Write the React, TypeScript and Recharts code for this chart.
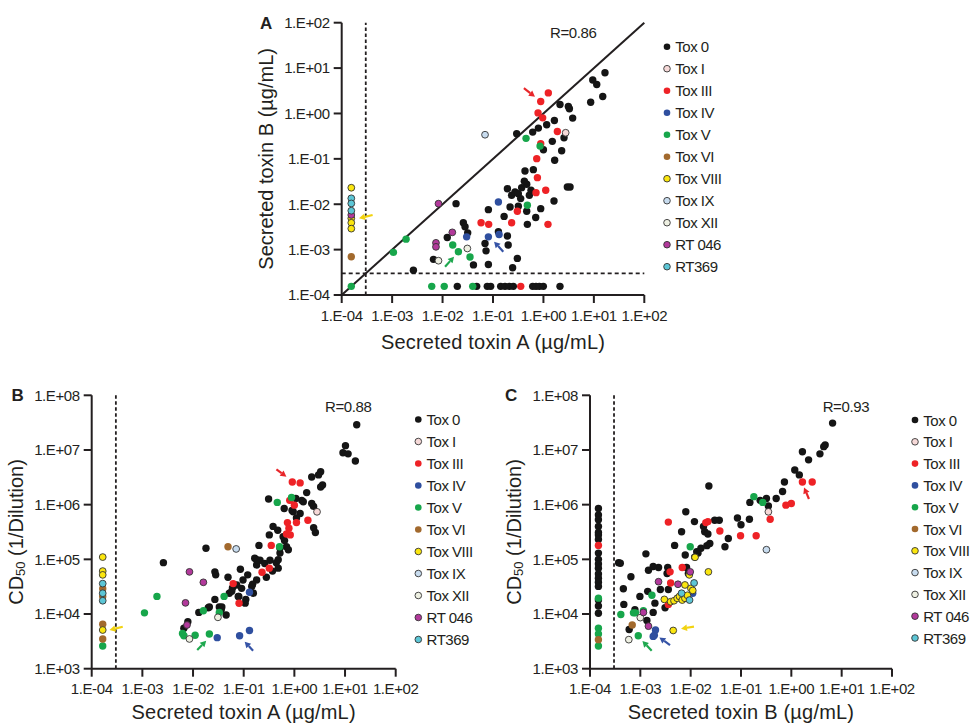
import React from 'react';
import { ScatterChart, Scatter, XAxis, YAxis, ReferenceLine } from 'recharts';

type P = [number, number];

const FONT = '"Liberation Sans", Arial, Helvetica, sans-serif';
const INK = '#231f20';

const TOXIN_TICKS = [1e-4, 1e-3, 1e-2, 1e-1, 1, 10, 100];
const CD50_TICKS = [1e3, 1e4, 1e5, 1e6, 1e7, 1e8];
const LOD = 3e-4;

const GROUP_NAMES = ['Tox 0', 'Tox I', 'Tox III', 'Tox IV', 'Tox V', 'Tox VI', 'Tox VIII', 'Tox IX', 'Tox XII', 'RT 046', 'RT369'];
const GROUP_FILL = ['#151515', '#f6d9d8', '#ee2226', '#2f4f9f', '#17a64b', '#a2692d', '#fbe60f', '#c8dcef', '#eef0e2', '#b2399b', '#5cc6d6'];
const GROUP_STROKE = ['none', '#333', 'none', 'none', 'none', 'none', '#333', '#333', '#333', '#333', '#333'];

// ---------- Panel A : toxin A (x) vs toxin B (y), µg/mL ----------
const A_TOX0: P[] = [
  [0.0196, 1.55e-4], [0.0475, 1.55e-4], [0.077, 1.55e-4], [0.09, 1.55e-4], [0.142, 1.55e-4], [0.173, 1.55e-4],
  [0.211, 1.55e-4], [0.253, 1.55e-4], [0.612, 1.55e-4], [0.713, 1.55e-4], [0.83, 1.55e-4], [0.995, 1.55e-4], [2.13, 1.55e-4],
  [2.64e-3, 3.5e-4], [0.0185, 0.0103], [6.6e-3, 6.1e-4], [0.0124, 1.85e-3], [0.0258, 3.9e-3], [0.0279, 3.2e-3],
  [0.0315, 2.34e-3], [0.041, 4.6e-4], [0.081, 7.6e-3], [0.0695, 1.37e-3], [0.0728, 9.4e-4], [0.081, 4.7e-4],
  [0.166, 5.4e-3], [0.193, 2.0e-3], [0.2, 1.26e-3], [0.245, 4.0e-4], [0.304, 6.4e-4], [0.193, 0.022], [0.234, 0.0158],
  [0.273, 0.0187], [0.318, 0.0171], [0.37, 0.0232], [0.466, 0.0275], [0.526, 0.0158], [0.431, 0.054], [0.631, 0.0578],
  [0.354, 0.0133], [0.218, 8.7e-3], [0.318, 9.0e-3], [0.466, 7.0e-3], [0.883, 8.0e-3], [0.703, 5.1e-3], [0.48, 3.6e-3],
  [1.62, 0.0118], [1.0, 0.159], [1.67, 0.093], [2.3, 0.151], [2.56, 0.292], [1.5, 0.243], [0.295, 0.357], [0.612, 0.389],
  [0.794, 0.476], [1.16, 0.564], [1.65, 0.702], [2.13, 1.58], [3.12, 1.43], [3.27, 1.27], [3.8, 0.79], [2.98, 0.024],
  [3.37, 0.024], [8.65, 1.77], [15, 2.36], [9.5, 5.45], [11.4, 4.36], [16.6, 7.9], [0.567, 0.0203], [0.418, 0.032],
  [0.128, 2.47e-3],
];
const A_TOXI: P[] = [[2.76, 0.376]];
const A_TOXIII: P[] = [
  [1.25, 2.84], [0.883, 1.84], [0.782, 1.03], [0.966, 0.8], [1.89, 0.4], [0.883, 0.215], [0.736, 0.101], [0.759, 0.0385],
  [1.11, 0.0203], [0.713, 0.018], [0.304, 7.0e-3], [0.234, 3.9e-3], [0.058, 3.9e-3], [0.082, 3.6e-3], [1.23, 3.6e-3], [0.355, 1.55e-4],
];
const A_TOXIV: P[] = [[0.03, 1.91e-3], [0.081, 1.91e-3], [0.132, 2.15e-3], [0.128, 0.0112]];
const A_TOXV: P[] = [
  [1.55e-4, 1.55e-4], [1.06e-3, 8.7e-4], [1.89e-3, 1.7e-3], [6.1e-3, 1.55e-4], [0.0108, 1.55e-4], [0.0396, 1.55e-4],
  [0.0159, 1.26e-3], [0.0206, 9.0e-4], [0.035, 6.9e-4], [0.452, 0.283], [0.857, 0.191], [0.48, 9.5e-3],
];
const A_TOXVI: P[] = [[1.55e-4, 6.95e-4]];
const A_TOXVIII: P[] = [[1.55e-4, 0.0231], [1.55e-4, 4.9e-3], [1.55e-4, 3.9e-3], [1.55e-4, 2.9e-3]];
const A_TOXIX: P[] = [[0.0695, 0.34]];
const A_TOXXII: P[] = [[8.3e-3, 5.7e-4], [0.031, 1.06e-3]];
const A_RT046: P[] = [[8.3e-3, 0.0103], [0.0156, 2.4e-3], [7.4e-3, 1.41e-3], [7.4e-3, 1.15e-3], [1.55e-4, 5.8e-3]];
const A_RT369: P[] = [[1.55e-4, 0.0135], [1.55e-4, 0.0104], [1.55e-4, 7.2e-3]];
const ARROWS_A: [P, P][] = [
  [[0.41, 3.6], [0.68, 2.34]],
  [[4.1e-4, 5.8e-3], [2.2e-4, 4.9e-3]],
  [[0.0112, 4.2e-4], [0.0169, 7.0e-4]],
  [[0.16, 9.0e-4], [0.105, 1.5e-3]],
];

// ---------- Panel B : toxin A (x) vs CD50 (y) ----------
const B_TOX0: P[] = [
  [17, 2.9e7], [10.2, 1.2e7], [9.1, 8.9e6], [11.5, 8.5e6], [16, 6.3e6], [3.3, 4e6], [2.2, 3.2e6], [3.0, 3.5e6], [3.6, 2.3e6],
  [3.3, 2.1e6], [1.75, 1.66e6], [1.07, 1.3e6], [1.4, 1.2e6], [0.31, 1.27e6], [0.63, 8.5e5], [2.2, 1.05e6], [2.4, 9.3e5],
  [0.9, 7.8e5], [1.3, 6.9e5], [1.1, 5.7e5], [2.4, 3.8e5], [2.6, 3.1e5], [0.38, 4e5], [0.47, 3.4e5], [0.32, 2.8e5], [0.6, 2.6e5],
  [0.64, 2.2e5], [0.7, 1.7e5], [0.76, 1.5e5], [0.52, 1.3e5], [0.2, 1.8e5], [0.165, 1.05e5], [0.21, 9.6e4], [0.26, 8.4e4],
  [0.18, 7.9e4], [0.33, 9.6e4], [0.44, 8.7e4], [0.48, 6.9e4], [0.37, 6.1e4], [0.28, 4.7e4], [0.18, 4.2e4], [0.15, 3.5e4],
  [0.12, 5.2e4], [0.097, 4.2e4], [0.086, 6.6e4], [0.06, 3e4], [0.073, 3.4e4], [0.08, 2.1e4], [0.11, 1.85e4], [0.052, 2.4e4],
  [0.049, 4.7e4], [0.027, 5.9e4], [0.028, 5.2e4], [0.018, 1.6e5], [2.6e-3, 8.7e4], [0.013, 1.07e4], [0.02, 1.3e4],
  [0.027, 1.85e4], [0.033, 1.35e4], [0.036, 1.2e4], [0.045, 9.6e3], [7.9e-3, 7.2e3], [6.6e-3, 5.5e3],
  [0.18, 9.8e4], [0.48, 9.8e4], [0.52, 1.6e5], [0.144, 3.2e4], [0.155, 2.4e4], [0.091, 2.95e4], [0.058, 2.6e4],
  [0.078, 2.1e4], [0.107, 1.58e4], [0.037, 1.35e4], [0.021, 1.35e4], [0.95, 7.4e5], [1.5, 1.13e6],
];
const B_TOXI: P[] = [[2.8, 7.4e5]];
const B_TOXIII: P[] = [
  [0.91, 2.6e6], [1.3, 2.5e6], [0.81, 1.2e6], [1.0, 9.8e5], [0.73, 4.7e5], [1.1, 4.7e5], [1.85, 5.2e5], [0.78, 3.7e5],
  [0.7, 2.9e5], [0.83, 2.8e5], [0.35, 1.8e5], [0.32, 6.9e4], [0.23, 5.8e4], [0.062, 3.6e4], [0.081, 1.57e4],
];
const B_TOXIV: P[] = [[0.03, 3.7e3], [0.083, 4e3], [0.13, 5e3], [0.13, 2.5e4]];
const B_TOXV: P[] = [
  [1.65e-4, 2.6e3], [1.1e-3, 1.05e4], [1.94e-3, 2.1e4], [6.2e-3, 4.4e3], [6.6e-3, 4e3], [0.011, 4.1e3], [0.016, 1.15e4],
  [0.021, 4.3e3], [0.033, 1.07e4], [0.041, 2.1e4], [0.46, 1.1e6], [0.88, 1.35e6], [0.51, 1.7e5],
];
const B_TOXVI: P[] = [[1.65e-4, 2.1e4], [1.65e-4, 2.9e4], [1.65e-4, 6.5e3], [1.65e-4, 3.5e3], [0.049, 1.7e5]];
const B_TOXVIII: P[] = [[1.65e-4, 1.1e5], [1.65e-4, 6.1e4], [1.65e-4, 5.2e4], [1.65e-4, 5.1e3]];
const B_TOXIX: P[] = [[0.071, 1.55e5]];
const B_TOXXII: P[] = [[8.5e-3, 3.5e3], [0.031, 8.7e3]];
const B_RT046: P[] = [[8.5e-3, 5.9e4], [0.016, 3.8e4], [7.1e-3, 1.6e4], [7.6e-3, 6.3e3]];
const B_RT369: P[] = [[1.65e-4, 3.6e4], [1.65e-4, 2.4e4], [1.65e-4, 1.75e4]];
const ARROWS_B: [P, P][] = [
  [[0.442, 4.43e6], [0.697, 3.25e6]],
  [[4.1e-4, 5.86e3], [2.24e-4, 5.09e3]],
  [[0.0121, 2.19e3], [0.0182, 3.25e3]],
  [[0.153, 2.13e3], [0.1045, 3.12e3]],
];

// ---------- Panel C : toxin B (x) vs CD50 (y) ----------
const C_TOX0: P[] = [
  [1.47e-4, 8.5e5], [1.47e-4, 6.5e5], [1.47e-4, 5.3e5], [1.47e-4, 4e5], [1.47e-4, 3.1e5], [1.47e-4, 2.8e5], [1.47e-4, 2.3e5],
  [1.47e-4, 1.3e5], [1.47e-4, 1e5], [1.47e-4, 8.2e4], [1.47e-4, 6.9e4], [1.47e-4, 5.4e4], [1.47e-4, 4.5e4], [1.47e-4, 3.8e4],
  [1.47e-4, 3.2e4], [1.47e-4, 1.8e4], [1.47e-4, 1.4e4], [1.47e-4, 1.03e4],
  [6.6, 3.1e7], [4.7, 1.23e7], [4.4, 1.15e7], [1.66, 9.3e6], [3.7, 8.5e6], [2.2, 6.6e6], [1.17, 4.3e6], [1.44, 3.5e6],
  [0.73, 2.6e6], [0.67, 1.74e6], [0.5, 1.3e6], [0.32, 1.3e6], [0.24, 1.2e6], [0.15, 1.1e6], [0.35, 9.5e5], [0.085, 5.7e5],
  [0.1, 4.3e5], [0.147, 5.4e5], [0.056, 2.4e5], [0.048, 1.7e5], [0.037, 5.2e5], [0.03, 5.2e5], [0.023, 2.2e6], [0.018, 4e5],
  [0.019, 3.2e5], [0.022, 2.9e5], [0.024, 1.95e5], [0.021, 1.78e5], [0.016, 1.6e5], [0.014, 1.3e5], [0.012, 1.1e5],
  [8e-3, 7.4e5], [6.6e-3, 3.2e5], [4.8e-3, 1.8e5], [2.3e-3, 7.1e4], [1.8e-3, 7.4e4], [1.45e-3, 6.3e4], [1.29e-3, 1.26e5],
  [3.5e-3, 7.1e4], [3.4e-3, 5.5e4], [8.3e-3, 7.1e4], [9e-3, 5.5e4], [3.7e-4, 8.7e4], [4e-4, 8.5e4], [6.5e-4, 4.8e4],
  [4.6e-4, 2.9e4], [4.7e-4, 1.5e4], [7.8e-4, 1.2e4], [9.8e-4, 2.1e4], [1.4e-3, 2.6e4], [1.8e-3, 1.07e4], [1.35e-3, 7.6e3],
  [6e-4, 5.2e3], [2.5e-3, 2.8e4], [3.6e-3, 2.8e4], [3.1e-3, 1.3e4],
  [0.0119, 4.9e5], [7.8e-3, 1.2e5], [0.0132, 1.38e5], [1.95e-3, 1.58e4],
];
const C_TOXI: P[] = [[0.35, 7.4e5]];
const C_TOXIII: P[] = [
  [1.47e-4, 1.8e5], [1.66, 2.6e6], [2.6, 2.6e6], [1.0, 1.05e6], [0.78, 9.8e5], [0.38, 5.4e5], [0.2, 2.7e5], [0.098, 2.7e5],
  [0.038, 3.3e5], [0.02, 4.7e5], [0.022, 4.9e5], [3.6e-3, 4.8e5], [6.8e-3, 7.1e4], [3.9e-3, 5.9e4], [4e-3, 3.7e4], [3.6e-3, 1.5e4],
];
const C_TOXIV: P[] = [[2.0e-3, 5.1e3], [1.9e-3, 4.1e3], [1.8e-3, 3.9e3], [0.011, 2.4e4]];
const C_TOXV: P[] = [
  [1.47e-4, 1.95e4], [1.47e-4, 5.5e3], [1.47e-4, 4.3e3], [1.47e-4, 2.6e3], [0.18, 1.4e6], [0.27, 1.1e6], [9.8e-3, 1.7e5],
  [1.7e-3, 2.2e4], [4.1e-4, 9.8e3], [7.3e-4, 1.05e4], [8e-4, 1.05e4], [1.15e-3, 1.15e4], [9.1e-4, 4e3],
];
const C_TOXVI: P[] = [[1.47e-4, 3.4e3], [6.9e-4, 6.3e3]];
const C_TOXVIII: P[] = [
  [3.0e-3, 1.85e4], [4.0e-3, 1.68e4], [4.67e-3, 1.75e4], [5.4e-3, 1.94e4], [6.0e-3, 2.1e4], [6.8e-3, 1.8e4], [7.7e-3, 1.94e4],
  [8.6e-3, 2.2e4], [7.7e-3, 3.4e4], [0.0101, 2.95e4], [0.011, 2.7e4], [9.4e-3, 5.2e4], [0.0122, 1.09e5], [0.0225, 5.9e4],
  [4.5e-3, 5e3],
];
const C_TOXIX: P[] = [[0.32, 1.5e5]];
const C_TOXXII: P[] = [[5.9e-4, 3.4e3], [1e-3, 8.6e3]];
const C_RT046: P[] = [[2.3e-3, 3.9e4], [5.6e-3, 3.5e4], [9.8e-3, 5.9e4], [1.15e-3, 1.07e4], [1.45e-3, 6e3]];
const C_RT369: P[] = [[0.0117, 3.7e4], [6.6e-3, 2.4e4], [9.5e-3, 1.8e4]];
const ARROWS_C: [P, P][] = [
  [[2.24, 1.27e6], [1.79, 2.07e6]],
  [[0.01164, 5.86e3], [6.43e-3, 5.4e3]],
  [[1.68e-3, 2.13e3], [1.1e-3, 3.21e3]],
  [[3.89e-3, 2.71e3], [2.39e-3, 3.74e3]],
];
const ARROW_COLORS = ['#e8262a', '#f2d30f', '#1fa84f', '#3553a6'];

// ---------- layout ----------
const W = 970;
const H = 725;
const YW = 85;
const XH = 50;

type Plot = { left: number; top: number; right: number; bottom: number };

const sci = (v: number) => {
  const e = Math.round(Math.log10(v));
  return `1.E${e < 0 ? '-' : '+'}${String(Math.abs(e)).padStart(2, '0')}`;
};

const tickStyle = { fill: INK, fontSize: 15, fontFamily: FONT, letterSpacing: -0.4 };

const arrowShape = (color: string) => (p: any) => {
  const { x1, y1, x2, y2 } = p;
  const dx = x2 - x1;
  const dy = y2 - y1;
  const L = Math.hypot(dx, dy) || 1;
  const ux = dx / L;
  const uy = dy / L;
  const h = 6;
  const w = 3.3;
  const bx = x2 - ux * h;
  const by = y2 - uy * h;
  return (
    <g>
      <line x1={x1} y1={y1} x2={bx} y2={by} stroke={color} strokeWidth={2.2} />
      <polygon points={`${x2},${y2} ${bx - uy * w},${by + ux * w} ${bx + uy * w},${by - ux * w}`} fill={color} />
    </g>
  );
};

const toData = (pts: P[]) => pts.map(([x, y]) => ({ x, y }));

function Legend({ x, y, step }: { x: number; y: number; step: number }) {
  return (
    <g>
      {GROUP_NAMES.map((name, i) => (
        <g key={name}>
          <circle cx={x} cy={y + i * step} r={3.3} fill={GROUP_FILL[i]} stroke={GROUP_STROKE[i]} strokeWidth={0.9} />
          <text x={x + 8.3} y={y + i * step} dominantBaseline="central" fontSize={15} letterSpacing={-0.5} fontFamily={FONT} fill={INK}>
            {name}
          </text>
        </g>
      ))}
    </g>
  );
}

type PanelProps = {
  plot: Plot;
  groups: P[][];
  yDomain: [number, number];
  yTicks: number[];
  xTitle: string;
  xTitleGap: number;
  yTitle: React.ReactNode;
  arrows: [P, P][];
  diagonal?: boolean;
  hLine?: boolean;
  letter: string;
  letterPos: [number, number];
  rText: string;
  rPos: [number, number];
  legendPos: [number, number, number];
};

function Panel(props: PanelProps) {
  const { plot, groups, yDomain, yTicks, xTitle, yTitle, arrows } = props;
  const margin = {
    top: plot.top,
    left: plot.left - YW,
    right: W - plot.right,
    bottom: H - plot.bottom - XH,
  };
  const yLabel = {
    content: () => {
      const cx = plot.left - 76;
      const cy = (plot.top + plot.bottom) / 2;
      return (
        <text x={cx} y={cy} transform={`rotate(-90 ${cx} ${cy})`} textAnchor="middle" dominantBaseline="central" fontSize={20} fontFamily={FONT} fill={INK}>
          {yTitle}
        </text>
      );
    },
  };
  const xLabel = {
    content: () => (
      <text x={(plot.left + plot.right) / 2} y={plot.bottom + props.xTitleGap} textAnchor="middle" dominantBaseline="central" fontSize={20} letterSpacing={0.2} fontFamily={FONT} fill={INK}>
        {xTitle}
      </text>
    ),
  };
  const order = [0, 1, 2, 3, 4, 5, 6, 7, 8, 9, 10];
  return (
    <div style={{ position: 'absolute', left: 0, top: 0, width: W, height: H, pointerEvents: 'none' }}>
      <ScatterChart width={W} height={H} margin={margin}>
        <XAxis
          type="number"
          dataKey="x"
          scale="log"
          domain={[1e-4, 1e2]}
          ticks={TOXIN_TICKS}
          tickFormatter={sci}
          allowDataOverflow
          interval={0}
          height={XH}
          axisLine={{ stroke: INK, strokeWidth: 2 }}
          tickLine={{ stroke: INK, strokeWidth: 2 }}
          tickSize={8}
          tickMargin={7}
          tick={tickStyle}
          label={xLabel}
        />
        <YAxis
          type="number"
          dataKey="y"
          scale="log"
          domain={yDomain}
          ticks={yTicks}
          tickFormatter={sci}
          allowDataOverflow
          interval={0}
          width={YW}
          axisLine={{ stroke: INK, strokeWidth: 2 }}
          tickLine={{ stroke: INK, strokeWidth: 2 }}
          tickSize={8}
          tickMargin={4}
          tick={tickStyle}
          label={yLabel}
        />
        <ReferenceLine x={LOD} stroke={INK} strokeWidth={1.8} strokeDasharray="3.5 2.5" />
        {props.hLine && <ReferenceLine y={LOD} stroke={INK} strokeWidth={1.8} strokeDasharray="4 3" />}
        {props.diagonal && (
          <ReferenceLine
            segment={[
              { x: 1e-4, y: 1e-4 },
              { x: 1e2, y: 1e2 },
            ]}
            stroke={INK}
            strokeWidth={2}
          />
        )}
        {order.map((gi) => (
          <Scatter
            key={GROUP_NAMES[gi]}
            name={GROUP_NAMES[gi]}
            data={toData(groups[gi])}
            isAnimationActive={false}
            shape={(p: any) => (
              <circle
                cx={p.cx}
                cy={p.cy}
                r={GROUP_STROKE[gi] === 'none' ? 3.7 : 3.4}
                fill={GROUP_FILL[gi]}
                stroke={GROUP_STROKE[gi]}
                strokeWidth={0.9}
              />
            )}
          />
        ))}
        {arrows.map((seg, i) => (
          <ReferenceLine
            key={'arrow' + i}
            segment={[
              { x: seg[0][0], y: seg[0][1] },
              { x: seg[1][0], y: seg[1][1] },
            ]}
            stroke={ARROW_COLORS[i]}
            shape={arrowShape(ARROW_COLORS[i])}
          />
        ))}
        <text x={props.letterPos[0]} y={props.letterPos[1]} fontSize={17} fontWeight="bold" fontFamily={FONT} fill={INK}>
          {props.letter}
        </text>
        <text x={props.rPos[0]} y={props.rPos[1]} fontSize={15} letterSpacing={-0.4} fontFamily={FONT} fill={INK}>
          {props.rText}
        </text>
        <Legend x={props.legendPos[0]} y={props.legendPos[1]} step={props.legendPos[2]} />
      </ScatterChart>
    </div>
  );
}

const CD50_TITLE = (
  <>
    CD
    <tspan fontSize={13} dy={4}>
      50
    </tspan>
    <tspan dy={-4}> (1/Dilution)</tspan>
  </>
);

export default function App() {
  return (
    <div style={{ position: 'absolute', left: 0, top: 0, width: W, height: H, background: '#fff', overflow: 'hidden' }}>
      <Panel
        plot={{ left: 341.7, top: 22.7, right: 644.3, bottom: 295 }}
        groups={[A_TOX0, A_TOXI, A_TOXIII, A_TOXIV, A_TOXV, A_TOXVI, A_TOXVIII, A_TOXIX, A_TOXXII, A_RT046, A_RT369]}
        yDomain={[1e-4, 1e2]}
        yTicks={TOXIN_TICKS}
        xTitle="Secreted toxin A (µg/mL)"
        xTitleGap={47}
        yTitle="Secreted toxin B (µg/mL)"
        arrows={ARROWS_A}
        diagonal
        hLine
        letter="A"
        letterPos={[260, 28.5]}
        rText="R=0.86"
        rPos={[550, 38.3]}
        legendPos={[667, 46.7, 22]}
      />
      <Panel
        plot={{ left: 91.7, top: 395.3, right: 395.7, bottom: 668.7 }}
        groups={[B_TOX0, B_TOXI, B_TOXIII, B_TOXIV, B_TOXV, B_TOXVI, B_TOXVIII, B_TOXIX, B_TOXXII, B_RT046, B_RT369]}
        yDomain={[1e3, 1e8]}
        yTicks={CD50_TICKS}
        xTitle="Secreted toxin A (µg/mL)"
        xTitleGap={43}
        yTitle={CD50_TITLE}
        arrows={ARROWS_B}
        letter="B"
        letterPos={[11.5, 400.7]}
        rText="R=0.88"
        rPos={[325, 411.7]}
        legendPos={[418.3, 419.5, 22]}
      />
      <Panel
        plot={{ left: 590, top: 395.3, right: 892, bottom: 668.7 }}
        groups={[C_TOX0, C_TOXI, C_TOXIII, C_TOXIV, C_TOXV, C_TOXVI, C_TOXVIII, C_TOXIX, C_TOXXII, C_RT046, C_RT369]}
        yDomain={[1e3, 1e8]}
        yTicks={CD50_TICKS}
        xTitle="Secreted toxin B (µg/mL)"
        xTitleGap={43}
        yTitle={CD50_TITLE}
        arrows={ARROWS_C}
        letter="C"
        letterPos={[505, 400.7]}
        rText="R=0.93"
        rPos={[822.7, 411.7]}
        legendPos={[915, 420, 21.8]}
      />
    </div>
  );
}
